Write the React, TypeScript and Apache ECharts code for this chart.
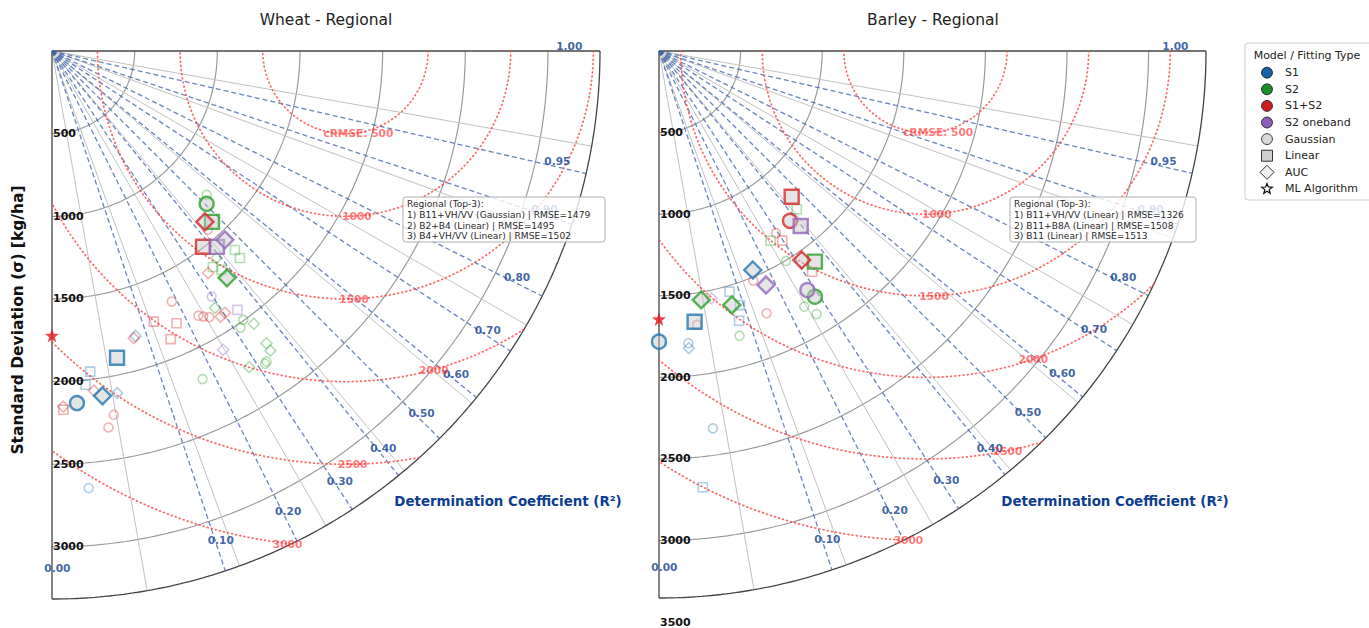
import React, { useEffect, useRef } from "react";
import * as echarts from "echarts";

// Each point: [R², standard deviation (kg/ha), fitting type (G=Gaussian, L=Linear, A=AUC), best-of-group flag]
type Pt = [number, number, string, number];

// ---------------- Wheat ----------------
const wheatS1: Pt[] = [
  [0.005, 2135, "G", 1],
  [0.043, 1897, "L", 1],
  [0.021, 2108, "A", 1],
  [0.079, 1796, "A", 0],
  [0.014, 1953, "L", 0],
  [0.010, 2029, "L", 0],
  [0.035, 2107, "A", 0],
  [0.007, 2653, "G", 0],
];
const wheatS2: Pt[] = [
  [0.506, 1315, "G", 1],
  [0.467, 1416, "L", 1],
  [0.373, 1733, "A", 1],
  [0.536, 1278, "G", 0],
  [0.458, 1635, "L", 0],
  [0.452, 1691, "L", 0],
  [0.388, 1599, "A", 0],
  [0.357, 1629, "L", 0],
  [0.375, 1675, "L", 0],
  [0.287, 1840, "A", 0],
  [0.336, 1996, "G", 0],
  [0.354, 2053, "A", 0],
  [0.317, 2026, "G", 0],
  [0.350, 2193, "A", 0],
  [0.347, 2243, "A", 0],
  [0.323, 2283, "G", 0],
  [0.317, 2289, "G", 0],
  [0.280, 2254, "A", 0],
  [0.174, 2184, "G", 0],
];
const wheatS1S2: Pt[] = [
  [0.445, 1387, "A", 1],
  [0.373, 1496, "L", 1],
  [0.432, 1435, "G", 0],
  [0.331, 1642, "A", 0],
  [0.304, 1898, "A", 0],
  [0.234, 1830, "G", 0],
  [0.245, 1849, "G", 0],
  [0.259, 1870, "G", 0],
  [0.287, 1903, "A", 0],
  [0.186, 1680, "G", 0],
  [0.173, 1811, "L", 0],
  [0.124, 1749, "L", 0],
  [0.145, 1885, "L", 0],
  [0.075, 1806, "A", 0],
  [0.015, 2070, "A", 0],
  [0.001, 2171, "L", 0],
  [0.001, 2152, "A", 0],
  [0.028, 2232, "G", 0],
  [0.022, 2303, "G", 0],
];
const wheatOneband: Pt[] = [
  [0.415, 1549, "L", 1],
  [0.456, 1549, "A", 1],
  [0.297, 1772, "G", 0],
  [0.339, 1926, "L", 0],
  [0.247, 2083, "A", 0],
];
const wheatML: [number, number] = [0.0, 1721];
const WHEAT_REF_STD = 1775;
const WHEAT_RMAX = 3315;
const wheatTop3 = [
  "Regional (Top-3):",
  "1) B11+VH/VV (Gaussian) | RMSE=1479",
  "2) B2+B4 (Linear) | RMSE=1495",
  "3) B4+VH/VV (Linear) | RMSE=1502",
];

// ---------------- Barley ----------------
const barleyS1: Pt[] = [
  [0.155, 1460, "A", 1],
  [0.017, 1673, "L", 1],
  [0.0, 1781, "G", 1],
  [0.079, 1537, "L", 0],
  [0.092, 1634, "L", 0],
  [0.081, 1724, "L", 0],
  [0.010, 1800, "G", 0],
  [0.010, 1830, "A", 0],
  [0.020, 2336, "G", 0],
  [0.010, 2687, "L", 0],
];
const barleyS2: Pt[] = [
  [0.354, 1606, "L", 1],
  [0.287, 1783, "G", 1],
  [0.076, 1619, "A", 1],
  [0.028, 1547, "A", 1],
  [0.431, 1286, "L", 0],
  [0.257, 1349, "L", 0],
  [0.268, 1504, "G", 0],
  [0.244, 1802, "G", 0],
  [0.264, 1879, "G", 0],
  [0.074, 1814, "G", 0],
];
const barleyS1S2: Pt[] = [
  [0.453, 1208, "L", 1],
  [0.373, 1314, "G", 1],
  [0.318, 1551, "A", 1],
  [0.292, 1327, "G", 0],
  [0.297, 1386, "L", 0],
  [0.325, 1646, "L", 0],
  [0.144, 1521, "G", 0],
  [0.144, 1737, "G", 0],
  [0.019, 1695, "G", 0],
];
const barleyOneband: Pt[] = [
  [0.396, 1380, "L", 1],
  [0.173, 1577, "A", 1],
  [0.278, 1724, "G", 1],
  [0.043, 1549, "A", 0],
];
const barleyML: [number, number] = [0.0, 1642];
const BARLEY_REF_STD = 1633;
const BARLEY_RMAX = 3352;
const barleyTop3 = [
  "Regional (Top-3):",
  "1) B11+VH/VV (Linear) | RMSE=1326",
  "2) B11+B8A (Linear) | RMSE=1508",
  "3) B11 (Linear) | RMSE=1513",
];

// ---------------- Shared grid / tick definitions ----------------
const STD_STEP = 500;
const R2_LINES = [0.1, 0.2, 0.3, 0.4, 0.5, 0.6, 0.7, 0.8, 0.9, 0.95];
const R2_LABELS = [0.0, 0.1, 0.2, 0.3, 0.4, 0.5, 0.6, 0.7, 0.8, 0.9, 0.95, 1.0];
const CRMSE_LEVELS = [500, 1000, 1500, 2000, 2500, 3000];
const GRID_ANGLES = [10, 20, 30, 40, 50, 60, 70, 80];
const MODEL_NAMES = ["S1", "S2", "S1+S2", "S2 oneband"];
const FIT_NAMES = ["Gaussian", "Linear", "AUC"];

// ---------------- Styling / layout ----------------
const FONT = "'DejaVu Sans', 'Noto Sans', sans-serif";
const MODEL_COLORS = ["#1f77b4", "#2ca02c", "#d62728", "#9467bd"];
const LEGEND_COLORS = ["#1461a8", "#1a8f25", "#d01f1f", "#8e5fbf"];
const FIT_SYMBOL: Record<string, string> = { G: "circle", L: "rect", A: "diamond" };
const R2_COLOR = "#0d3d8f";
const CRMSE_COLOR = "rgba(255,55,55,0.85)";

const PANELS = [
  {
    grid: { left: 52, top: 51, width: 548, height: 548 },
    rmax: WHEAT_RMAX,
    ymax: WHEAT_RMAX,
    ref: WHEAT_REF_STD,
    models: [wheatS1, wheatS2, wheatS1S2, wheatOneband],
    ml: wheatML,
    crmseLabelAngles: [81, 86, 88, 74.5, 89, 96.7],
    title: "Wheat - Regional",
    titlePos: [326, 20],
    xNamePos: [508, 501],
    top3: wheatTop3,
    boxRect: [403, 197, 202, 45],
  },
  {
    grid: { left: 659, top: 51, width: 547, height: (547 * 3500) / BARLEY_RMAX },
    rmax: BARLEY_RMAX,
    ymax: 3500,
    ref: BARLEY_REF_STD,
    models: [barleyS1, barleyS2, barleyS1S2, barleyOneband],
    ml: barleyML,
    crmseLabelAngles: [81, 86, 88, 70.7, 78.4, 92],
    title: "Barley - Regional",
    titlePos: [933, 20],
    xNamePos: [1115, 501],
    top3: barleyTop3,
    boxRect: [1010, 197, 186, 45],
  },
];

function rgba(hex: string, a: number) {
  const n = parseInt(hex.slice(1), 16);
  return `rgba(${(n >> 16) & 255},${(n >> 8) & 255},${n & 255},${a})`;
}
const rad = (d: number) => (d * Math.PI) / 180;
const toXY = (r2: number, std: number) => [std * Math.sqrt(r2), std * Math.sqrt(1 - r2)];
const polar = (deg: number, r: number) => [r * Math.cos(rad(deg)), r * Math.sin(rad(deg))];
const r2Angle = (r2: number) => (Math.acos(Math.sqrt(r2)) * 180) / Math.PI;

function arcPts(r: number) {
  const pts: number[][] = [];
  for (let i = 0; i <= 180; i++) pts.push(polar(i / 2, r));
  return pts;
}
function crmsePts(ref: number, c: number, rmax: number) {
  const pts: number[][] = [];
  for (let i = 0; i <= 1440; i++) {
    const phi = (i * Math.PI) / 1440;
    const x = ref + c * Math.cos(phi);
    const y = c * Math.sin(phi);
    if (x >= 0 && x * x + y * y <= rmax * rmax * 1.0001) pts.push([x, y]);
  }
  return pts;
}
function starPoints(cx: number, cy: number, R: number, r: number) {
  const pts: number[][] = [];
  for (let i = 0; i < 10; i++) {
    const a = -Math.PI / 2 + (i * Math.PI) / 5;
    const rr = i % 2 === 0 ? R : r;
    pts.push([cx + rr * Math.cos(a), cy + rr * Math.sin(a)]);
  }
  return pts;
}
const STAR_PATH =
  "path://" +
  starPoints(10, 10, 10, 4)
    .map((p, i) => (i === 0 ? "M" : "L") + p[0].toFixed(2) + "," + p[1].toFixed(2))
    .join(" ") +
  " Z";

function lineSeries(idx: number, data: number[][], lineStyle: any, z: number) {
  return {
    type: "line",
    xAxisIndex: idx,
    yAxisIndex: idx,
    data,
    symbol: "none",
    showSymbol: false,
    silent: true,
    clip: false,
    z,
    lineStyle,
  };
}

function buildPanelSeries(idx: number, p: (typeof PANELS)[number]) {
  const s: any[] = [];
  // std arcs
  for (let v = STD_STEP; v < p.rmax; v += STD_STEP) {
    s.push(lineSeries(idx, arcPts(v), { color: "#9a9a9a", width: 1.2 }, 1));
  }
  // radial angle grid
  GRID_ANGLES.forEach((a) =>
    s.push(lineSeries(idx, [[0, 0], polar(a, p.rmax)], { color: "#c2c2c2", width: 1 }, 1))
  );
  // frame
  s.push(lineSeries(idx, arcPts(p.rmax), { color: "#444", width: 1.3 }, 2));
  s.push(lineSeries(idx, [[0, 0], [0, p.rmax]], { color: "#444", width: 1.3 }, 2));
  s.push(lineSeries(idx, [[0, 0], [p.rmax, 0]], { color: "#444", width: 1.3 }, 2));
  // R² dashed lines
  R2_LINES.forEach((v) =>
    s.push(
      lineSeries(
        idx,
        [[0, 0], polar(r2Angle(v), p.rmax)],
        { color: "rgba(60,100,170,0.78)", width: 1.3, type: [5, 3] },
        3
      )
    )
  );
  // cRMSE circles
  CRMSE_LEVELS.forEach((c) =>
    s.push(
      lineSeries(
        idx,
        crmsePts(p.ref, c, p.rmax),
        { color: "rgba(255,70,70,0.8)", width: 1.8, type: [0.8, 3.4], cap: "round" },
        3
      )
    )
  );
  // markers
  const small: any[] = [];
  const big: any[] = [];
  p.models.forEach((arr, m) => {
    const col = MODEL_COLORS[m];
    arr.forEach((pt) => {
      const [r2, std, fit, hi] = pt;
      const sym = FIT_SYMBOL[fit];
      if (hi) {
        big.push({
          value: toXY(r2, std),
          symbol: sym,
          symbolSize: fit === "A" ? 17 : 14,
          itemStyle: { color: "rgba(200,200,200,0.6)", borderColor: col, borderWidth: 2.4 },
        });
      } else {
        small.push({
          value: toXY(r2, std),
          symbol: sym,
          symbolSize: fit === "A" ? 11 : 9,
          itemStyle: { color: "rgba(255,255,255,0)", borderColor: rgba(col, 0.45), borderWidth: 1.6 },
        });
      }
    });
  });
  s.push({ type: "scatter", xAxisIndex: idx, yAxisIndex: idx, data: small, silent: true, clip: false, z: 5 });
  s.push({ type: "scatter", xAxisIndex: idx, yAxisIndex: idx, data: big, silent: true, clip: false, z: 6 });
  s.push({
    type: "scatter",
    xAxisIndex: idx,
    yAxisIndex: idx,
    data: [toXY(p.ml[0], p.ml[1])],
    symbol: STAR_PATH,
    symbolSize: 14,
    itemStyle: { color: "#e8141c" },
    silent: true,
    clip: false,
    z: 7,
  });
  // R² labels
  s.push({
    type: "scatter",
    xAxisIndex: idx,
    yAxisIndex: idx,
    symbolSize: 0.1,
    itemStyle: { color: "transparent" },
    silent: true,
    clip: false,
    z: 8,
    data: R2_LABELS.map((v) => ({ value: polar(r2Angle(v) - 0.6, p.rmax * 0.944), name: v.toFixed(2) })),
    label: {
      show: true,
      position: "inside",
      formatter: "{b}",
      color: R2_COLOR,
      fontWeight: "bold",
      fontSize: 10.6,
      fontFamily: FONT,
    },
  });
  // cRMSE labels
  s.push({
    type: "scatter",
    xAxisIndex: idx,
    yAxisIndex: idx,
    symbolSize: 0.1,
    itemStyle: { color: "transparent" },
    silent: true,
    clip: false,
    z: 8,
    data: CRMSE_LEVELS.map((c, i) => {
      const a = rad(p.crmseLabelAngles[i]);
      return {
        value: [p.ref + c * Math.cos(a), c * Math.sin(a)],
        name: i === 0 ? `cRMSE: ${c}` : String(c),
      };
    }),
    label: {
      show: true,
      position: "inside",
      formatter: "{b}",
      color: CRMSE_COLOR,
      fontWeight: "bold",
      fontSize: 10.6,
      fontFamily: FONT,
    },
  });
  return s;
}

function buildGraphic() {
  const g: any[] = [];
  PANELS.forEach((p) => {
    g.push({
      type: "text",
      x: p.titlePos[0],
      y: p.titlePos[1],
      z: 100,
      style: { text: p.title, fill: "#222", font: `15.5px ${FONT}`, align: "center", verticalAlign: "middle" },
    });
    g.push({
      type: "text",
      x: p.xNamePos[0],
      y: p.xNamePos[1],
      z: 100,
      style: {
        text: "Determination Coefficient (R²)",
        fill: R2_COLOR,
        font: `bold 13.4px ${FONT}`,
        align: "center",
        verticalAlign: "middle",
      },
    });
    const [bx, by, bw, bh] = p.boxRect;
    g.push({
      type: "rect",
      z: 100,
      shape: { x: bx, y: by, width: bw, height: bh, r: 3 },
      style: { fill: "rgba(255,255,255,0.8)", stroke: "#b0b0b0", lineWidth: 1 },
    });
    g.push({
      type: "text",
      x: bx + 4,
      y: by + 2,
      z: 101,
      style: {
        text: p.top3.join("\n"),
        fill: "#2a2a2a",
        font: `9.1px ${FONT}`,
        lineHeight: 10.6,
        align: "left",
        verticalAlign: "top",
      },
    });
  });
  g.push({
    type: "text",
    x: 18,
    y: 320,
    rotation: Math.PI / 2,
    z: 100,
    style: {
      text: "Standard Deviation (σ) [kg/ha]",
      fill: "#111",
      font: `bold 15.5px ${FONT}`,
      align: "center",
      verticalAlign: "middle",
    },
  });
  // legend
  const lx = 1267;
  const tx = 1285;
  const y0 = 72.7;
  const dy = 16.6;
  g.push({
    type: "rect",
    z: 100,
    shape: { x: 1245, y: 43, width: 130, height: 157, r: 3 },
    style: { fill: "rgba(255,255,255,0.9)", stroke: "#cfcfcf", lineWidth: 1 },
  });
  g.push({
    type: "text",
    x: 1307,
    y: 55,
    z: 101,
    style: { text: "Model / Fitting Type", fill: "#222", font: `11px ${FONT}`, align: "center", verticalAlign: "middle" },
  });
  const labels = [...MODEL_NAMES, ...FIT_NAMES, "ML Algorithm"];
  labels.forEach((t, i) => {
    const y = y0 + i * dy;
    g.push({
      type: "text",
      x: tx,
      y,
      z: 101,
      style: { text: t, fill: "#222", font: `11px ${FONT}`, align: "left", verticalAlign: "middle" },
    });
    if (i < 4) {
      g.push({
        type: "circle",
        z: 101,
        shape: { cx: lx, cy: y, r: 5.4 },
        style: { fill: LEGEND_COLORS[i], stroke: "#222", lineWidth: 1 },
      });
    } else if (i === 4) {
      g.push({ type: "circle", z: 101, shape: { cx: lx, cy: y, r: 5.4 }, style: { fill: "#d9d9d9", stroke: "#333", lineWidth: 1 } });
    } else if (i === 5) {
      g.push({ type: "rect", z: 101, shape: { x: lx - 5.5, y: y - 5.5, width: 11, height: 11 }, style: { fill: "#cfcfcf", stroke: "#333", lineWidth: 1 } });
    } else if (i === 6) {
      g.push({
        type: "polygon",
        z: 101,
        shape: { points: [[lx, y - 7], [lx + 7, y], [lx, y + 7], [lx - 7, y]] },
        style: { fill: "#f2f2f2", stroke: "#333", lineWidth: 1 },
      });
    } else {
      g.push({
        type: "polygon",
        z: 101,
        shape: { points: starPoints(lx, y, 5.5, 2.3) },
        style: { fill: "#ffffff", stroke: "#111", lineWidth: 1.2 },
      });
    }
  });
  return g;
}

export default function App() {
  const ref = useRef<HTMLDivElement>(null);
  useEffect(() => {
    if (!ref.current) return;
    const chart = echarts.init(ref.current, undefined, { renderer: "svg" });
    const series: any[] = [];
    PANELS.forEach((p, i) => series.push(...buildPanelSeries(i, p)));
    const option: any = {
      animation: false,
      backgroundColor: "#ffffff",
      textStyle: { fontFamily: FONT },
      grid: PANELS.map((p) => ({ ...p.grid, containLabel: false })),
      xAxis: PANELS.map((p, i) => ({
        type: "value",
        gridIndex: i,
        min: 0,
        max: p.rmax,
        show: false,
      })),
      yAxis: PANELS.map((p, i) => ({
        type: "value",
        gridIndex: i,
        min: 0,
        max: p.ymax,
        interval: STD_STEP,
        inverse: true,
        z: 10,
        axisLine: { show: false },
        axisTick: { show: false },
        splitLine: { show: false },
        axisLabel: {
          inside: true,
          margin: 1,
          color: "#111",
          fontWeight: "bold",
          fontSize: 11,
          fontFamily: FONT,
          formatter: (v: number) => (v === 0 || v % STD_STEP !== 0 ? "" : String(v)),
        },
      })),
      series,
      graphic: buildGraphic(),
    };
    chart.setOption(option);
    return () => chart.dispose();
  }, []);
  return (
    <div
      ref={ref}
      style={{ position: "fixed", left: 0, top: 0, width: 1369, height: 628, background: "#fff" }}
    />
  );
}
